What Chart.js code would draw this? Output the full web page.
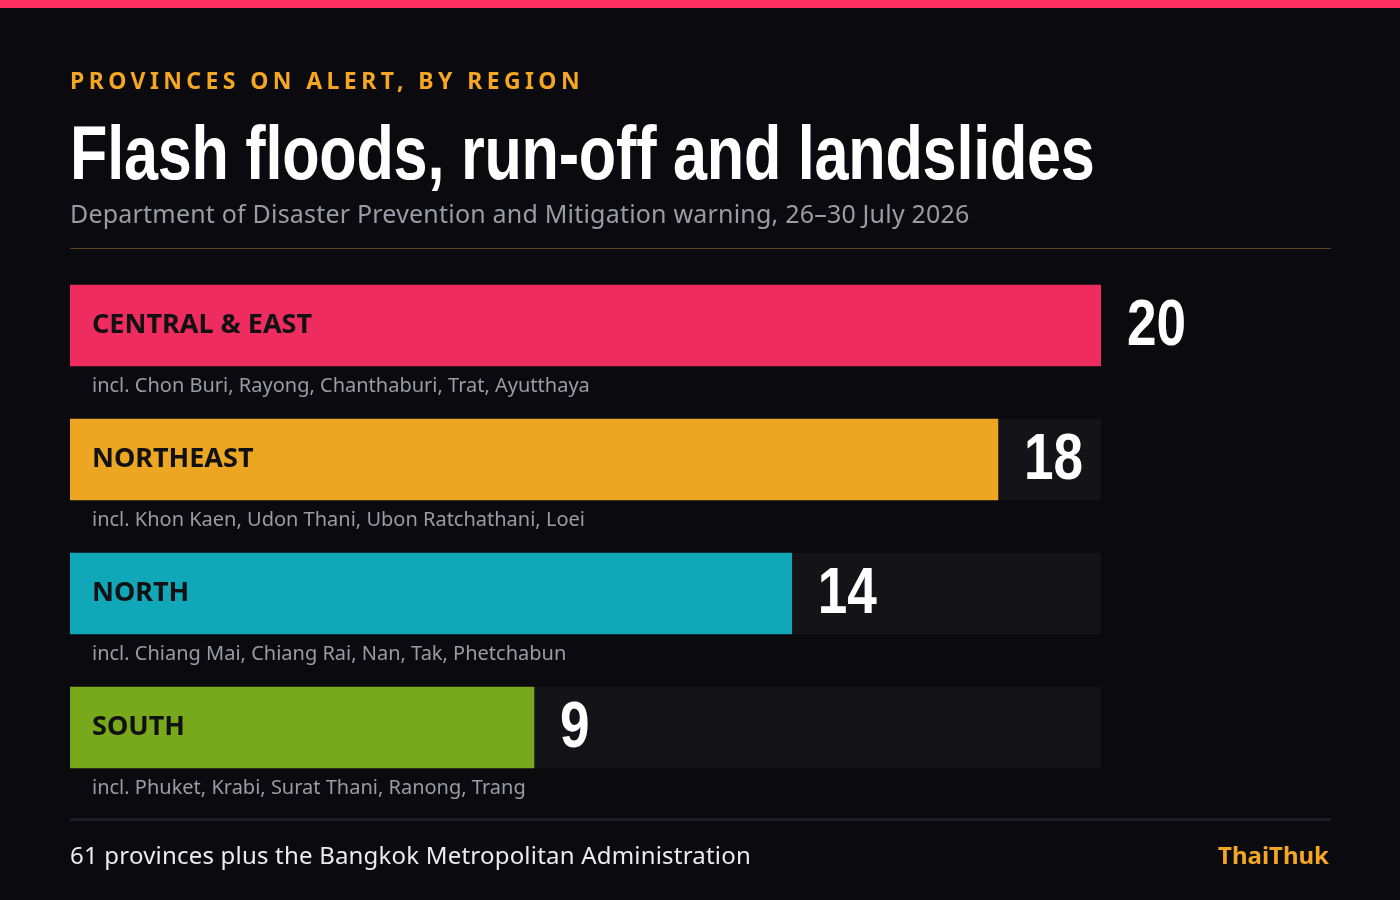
<!DOCTYPE html>
<html>
<head>
<meta charset="utf-8">
<script src="https://cdn.jsdelivr.net/npm/chart.js@4.4.1/dist/chart.umd.min.js"></script>
<style>
  html, body { margin: 0; padding: 0; background: #0b0b0f; }
  #page { position: relative; width: 1400px; height: 900px; overflow: hidden; background: #0b0b0f; font-family: "Noto Sans", sans-serif; }
  #topbar { position: absolute; left: 0; top: 0; width: 1400px; height: 8px; background: #ff2e60; }
  .txt { position: absolute; white-space: nowrap; }
  #kicker { left: 70px; top: 66px; font-size: 23px; line-height: 28px; font-weight: 700; letter-spacing: 4.4px; color: #f5a623; }
  #title { left: 70px; top: 110px; font-family: "Liberation Sans", sans-serif; font-weight: 700; font-size: 76px; line-height: 86px; color: #ffffff; letter-spacing: -0.3px; transform: scaleX(0.805); transform-origin: 0 0; }
  #subtitle { left: 70px; top: 197px; font-size: 25px; line-height: 32px; letter-spacing: 0.2px; color: #9b9ba5; }
  #rule { position: absolute; left: 70px; top: 248px; width: 1261px; height: 1px; background: #5c4620; }
  #footrule { position: absolute; left: 70px; top: 818px; width: 1261px; height: 3px; background: #1d1d23; }
  #foot { left: 70px; top: 840px; font-size: 24px; line-height: 30px; letter-spacing: 0.2px; color: #ececf0; }
  #brand { right: 71px; top: 840px; font-size: 24px; line-height: 30px; font-weight: 700; color: #f5a623; }
  #chartBox { position: absolute; left: 0; top: 0; width: 1400px; height: 900px; }
</style>
</head>
<body>
<div id="page">
  <div id="topbar"></div>
  <div id="chartBox"><canvas id="floodChart"></canvas></div>
  <div class="txt" id="kicker">PROVINCES ON ALERT, BY REGION</div>
  <div class="txt" id="title">Flash floods, run-off and landslides</div>
  <div class="txt" id="subtitle">Department of Disaster Prevention and Mitigation warning, 26–30 July 2026</div>
  <div id="rule"></div>
  <div id="footrule"></div>
  <div class="txt" id="foot">61 provinces plus the Bangkok Metropolitan Administration</div>
  <div class="txt" id="brand">ThaiThuk</div>
</div>
<script>
// data
const regions = ['CENTRAL & EAST', 'NORTHEAST', 'NORTH', 'SOUTH'];
const provinceCounts = [20, 18, 14, 9];
const examples = [
  'incl. Chon Buri, Rayong, Chanthaburi, Trat, Ayutthaya',
  'incl. Khon Kaen, Udon Thani, Ubon Ratchathani, Loei',
  'incl. Chiang Mai, Chiang Rai, Nan, Tak, Phetchabun',
  'incl. Phuket, Krabi, Surat Thani, Ranong, Trang'
];
const barColors = ['#ee2c5f', '#eca622', '#10a8b8', '#78a81b'];
const axisMax = 20;

// dark track behind each bar, full axis length
const trackPlugin = {
  id: 'tracks',
  beforeDatasetsDraw(chart) {
    const { ctx, scales: { x } } = chart;
    const meta = chart.getDatasetMeta(0);
    ctx.save();
    ctx.fillStyle = '#141418';
    meta.data.forEach(bar => {
      const h = bar.height;
      ctx.fillRect(x.getPixelForValue(0), bar.y - h / 2, x.getPixelForValue(axisMax) - x.getPixelForValue(0), h);
    });
    ctx.restore();
  }
};

// region name in bar, examples below, count after bar end
const labelPlugin = {
  id: 'barLabels',
  afterDatasetsDraw(chart) {
    const { ctx, scales: { x } } = chart;
    const meta = chart.getDatasetMeta(0);
    const left = x.getPixelForValue(0);
    ctx.save();
    meta.data.forEach((bar, i) => {
      const h = bar.height;
      ctx.textBaseline = 'middle';
      ctx.textAlign = 'left';

      ctx.fillStyle = '#111114';
      ctx.font = '700 27px "Noto Sans", sans-serif';
      ctx.fillText(regions[i], left + 22, bar.y);

      ctx.fillStyle = '#9b9ba5';
      ctx.font = '400 20px "Noto Sans", sans-serif';
      ctx.fillText(examples[i], left + 22, bar.y + h / 2 + 20);

      // condensed figure: squeeze a bold sans horizontally
      ctx.save();
      ctx.fillStyle = '#ffffff';
      ctx.font = '700 64px "Liberation Sans", sans-serif';
      ctx.translate(bar.x + 26, bar.y + 2);
      ctx.scale(0.83, 1);
      ctx.fillText(String(provinceCounts[i]), 0, 0);
      ctx.restore();
    });
    ctx.restore();
  }
};

new Chart(document.getElementById('floodChart'), {
  type: 'bar',
  data: {
    labels: regions,
    datasets: [{
      data: provinceCounts,
      backgroundColor: barColors,
      barThickness: 81,
      borderWidth: 0,
      borderSkipped: false
    }]
  },
  options: {
    indexAxis: 'y',
    responsive: true,
    maintainAspectRatio: false,
    animation: false,
    layout: {
      padding: { left: 70, right: 299, top: 258.5, bottom: 105.5 }
    },
    plugins: {
      legend: { display: false },
      tooltip: { enabled: false }
    },
    scales: {
      x: { display: false, min: 0, max: axisMax },
      y: { display: false }
    }
  },
  plugins: [trackPlugin, labelPlugin]
});
</script>
</body>
</html>
